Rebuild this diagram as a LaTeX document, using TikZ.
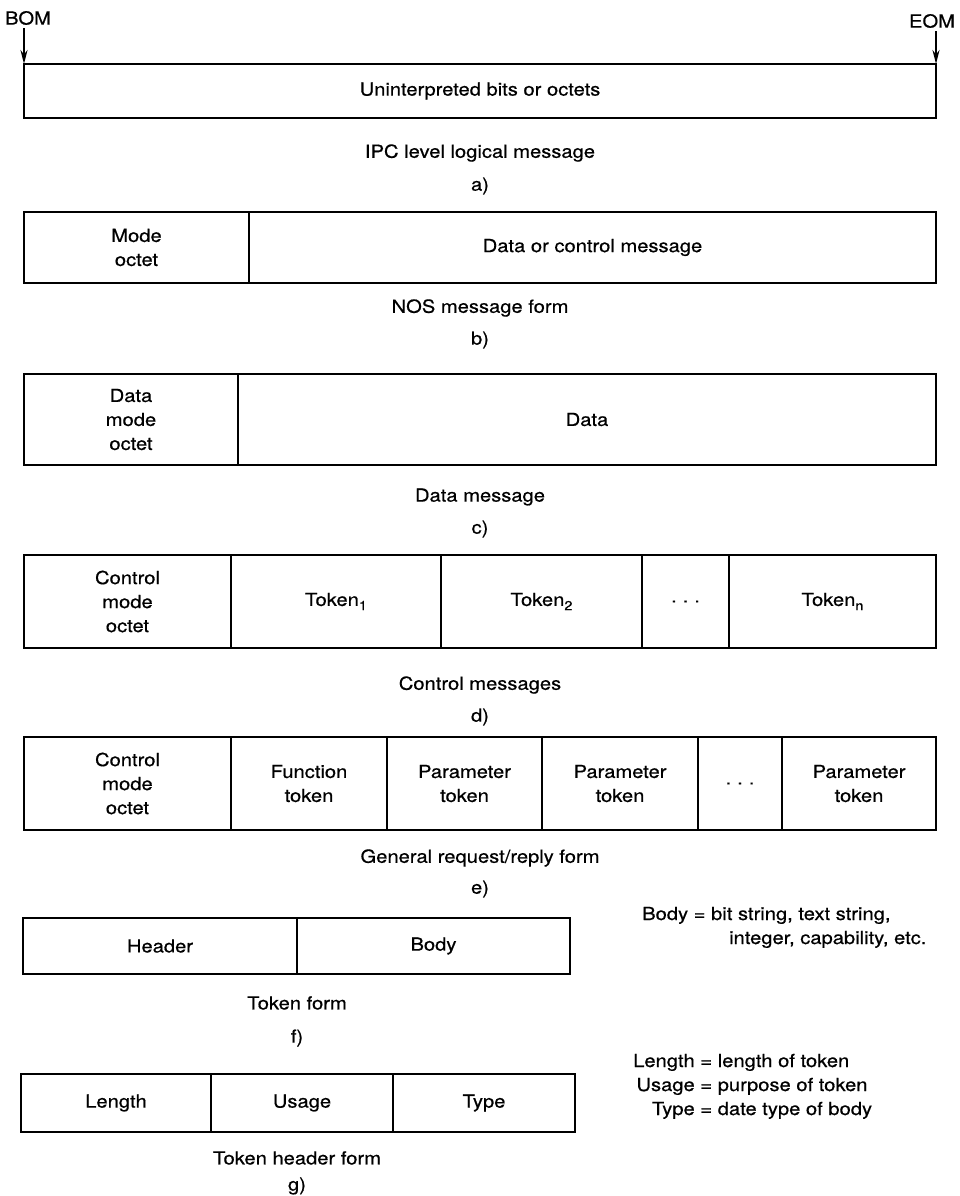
\documentclass[tikz,border=0pt]{standalone}
\usepackage{fontspec}
\setmainfont{TeX Gyre Heros}[FakeStretch=1.12, FakeBold=0.6]
\usetikzlibrary{arrows.meta}
\begin{document}
\begin{tikzpicture}[x=1pt,y=-1pt,
  cell/.style={draw=black, line width=2.6pt, inner sep=0pt, outer sep=0pt,
    align=center, font=\fontsize{18}{24}\selectfont},
  captext/.style={inner sep=0pt, font=\fontsize{18}{22}\selectfont},
  note/.style={inner sep=0pt, anchor=north west, font=\fontsize{18}{24}\selectfont},
  endarrow/.style={line width=2pt, -{Stealth[length=14pt,width=7pt]}}]
\newcommand\cellbox[6]{\node[cell, minimum width={#4-#2}, minimum height={#5-#3}]
  (#1) at ({(#2+#4)/2},{(#3+#5)/2}) {#6};}
\newcommand\sub[1]{\raisebox{-0.45ex}{\fontsize{13}{13}\selectfont #1}}
\useasboundingbox (0,0) rectangle (960,1196);

% a) IPC level logical message
\node[captext] (bom) at (28,18) {BOM};
\node[captext] (eom) at (932,21) {EOM};
\cellbox{a}{24}{64}{936}{118}{Uninterpreted bits or octets}
\draw[endarrow] (bom.south -| a.north west) ++(0,3) -- (a.north west);
\draw[endarrow] (eom.south -| a.north east) ++(0,3) -- (a.north east);
\node[captext] (acap) at (480,153) {IPC level logical message};
\node[captext] (alab) at (480,186) {a)};

% b) NOS message form
\cellbox{b1}{24}{212}{249}{283}{Mode\\octet}
\cellbox{b2}{249}{212}{936}{283}{Data or control message}
\node[captext] (bcap) at (480,308) {NOS message form};
\node[captext] (blab) at (480,340) {b)};

% c) Data message
\cellbox{c1}{24}{374}{238}{465}{Data\\mode\\octet}
\cellbox{c2}{238}{374}{936}{465}{Data}
\node[captext] (ccap) at (480,497) {Data message};
\node[captext] (clab) at (480,529) {c)};

% d) Control messages
\cellbox{d1}{24}{555}{231}{648}{Control\\mode\\octet}
\cellbox{d2}{231}{555}{441}{648}{Token\sub{1}}
\cellbox{d3}{441}{555}{642}{648}{Token\sub{2}}
\cellbox{d4}{642}{555}{729}{648}{.\,\,.\,\,.}
\cellbox{d5}{729}{555}{936}{648}{Token\sub{n}}
\node[captext] (dcap) at (480,685) {Control messages};
\node[captext] (dlab) at (480,717) {d)};

% e) General request/reply form
\cellbox{e1}{24}{737}{231}{830}{Control\\mode\\octet}
\cellbox{e2}{231}{737}{387}{830}{Function\\token}
\cellbox{e3}{387}{737}{542}{830}{Parameter\\token}
\cellbox{e4}{542}{737}{698}{830}{Parameter\\token}
\cellbox{e5}{698}{737}{782}{830}{.\,\,.\,\,.}
\cellbox{e6}{782}{737}{936}{830}{Parameter\\token}
\node[captext] (ecap) at (480,858) {General request/reply form};
\node[captext] (elab) at (480,889) {e)};

% f) Token form
\cellbox{f1}{23}{918}{297}{974}{Header}
\cellbox{f2}{297}{918}{570}{974}{Body}
\node[captext] (fcap) at (297,1003) {Token form};
\node[captext] (flab) at (297,1038) {f)};
\node[note] (fnote) at (642,903) {\begin{tabular}{@{}l@{}}
  Body = bit string, text string,\\
  \phantom{Body = }\hspace{18pt}integer, capability, etc.
  \end{tabular}};

% g) Token header form
\cellbox{g1}{21}{1074}{211}{1132}{Length}
\cellbox{g2}{211}{1074}{393}{1132}{Usage}
\cellbox{g3}{393}{1074}{575}{1132}{Type}
\node[captext] (gcap) at (297,1158) {Token header form};
\node[captext] (glab) at (297,1186) {g)};
\node[note] (gnote) at (633,1050) {\begin{tabular}{@{}r@{ = }l@{}}
  Length & length of token\\
  Usage  & purpose of token\\
  Type   & date type of body
  \end{tabular}};
\end{tikzpicture}
\end{document}
